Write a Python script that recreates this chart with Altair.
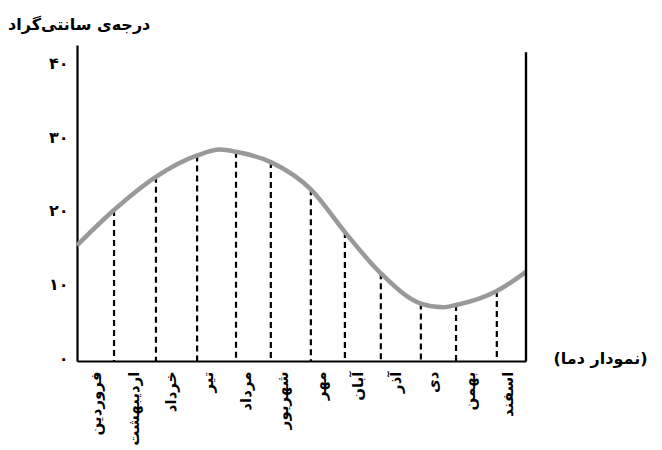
import altair as alt
import pandas as pd

# ---- data ----
months = ["فروردین", "اردیبهشت", "خرداد", "تیر", "مرداد", "شهریور",
          "مهر", "آبان", "آذر", "دی", "بهمن", "اسفند"]
month_centers = [0.5, 1.5, 2.5, 3.5, 4.5, 5.5, 6.5, 7.5, 8.5, 9.5, 10.5, 11.5]

# dashed month dividers (x in month units) and the temperature where they meet the curve
divider_x = [0.99, 2.11, 3.21, 4.25, 5.18, 6.25, 7.16, 8.12, 9.19, 10.13, 11.22]
divider_temp = [20.1, 24.6, 27.5, 28.0, 26.6, 22.9, 17.1, 11.5, 7.4, 7.2, 9.1]

# temperature curve samples
curve_x = [0, 0.99, 2.11, 3.21, 3.82, 4.25, 5.18, 6.25, 7.16, 8.12, 9.19, 9.78, 10.13, 11.22, 12]
curve_temp = [15.3, 20.1, 24.6, 27.5, 28.3, 28.0, 26.6, 22.9, 17.1, 11.5, 7.4, 6.9, 7.2, 9.1, 11.7]

y_ticks = [0, 10, 20, 30, 40]
y_tick_labels = ["۰", "۱۰", "۲۰", "۳۰", "۴۰"]
y_min, y_max = -0.4, 42.5
right_frame_top = 41.5

title_text = "درجه‌ی سانتی‌گراد"
note_text = "(نمودار دما)"

FONT = "DejaVu Sans"

curve_df = pd.DataFrame({"x": curve_x, "t": curve_temp})
div_df = pd.DataFrame({"x": divider_x, "t": divider_temp, "base": [y_min] * len(divider_x)})
frame_df = pd.DataFrame({"x": [12], "t": [right_frame_top], "base": [y_min]})

y_expr = " : ".join(f"datum.value == {v} ? '{l}'" for v, l in zip(y_ticks, y_tick_labels)) + " : ''"
x_expr = "[" + ",".join(f"'{m}'" for m in months) + "][floor(datum.value)]"

x_scale = alt.Scale(domain=[0, 12], nice=False, zero=False)
y_scale = alt.Scale(domain=[y_min, y_max], nice=False, zero=False)

x_axis = alt.Axis(values=month_centers, labelExpr=x_expr, labelAngle=270, labelAlign="right",
                  labelBaseline="middle", labelPadding=10, ticks=False, grid=False,
                  labelFont=FONT, labelFontSize=15, labelFontWeight="bold", labelColor="black",
                  labelOverlap=False, labelFlush=False, labelBound=False,
                  domainColor="black", domainWidth=2.2,
                  title=note_text, titleX=476, titleY=-3, titleAlign="left", titleBaseline="middle",
                  titleAngle=0, titleFont=FONT, titleFontSize=16, titleFontWeight="bold",
                  titleColor="black")
y_axis = alt.Axis(values=y_ticks, labelExpr=y_expr, ticks=False, grid=False, title=None,
                  labelFont=FONT, labelFontSize=16, labelFontWeight="bold", labelColor="black",
                  labelPadding=9, domainColor="black", domainWidth=2.2, labelFlush=False)

dividers = alt.Chart(div_df).mark_rule(color="black", strokeWidth=2.2, strokeDash=[6, 4]).encode(
    x=alt.X("x:Q", scale=x_scale, axis=x_axis),
    y=alt.Y("t:Q", scale=y_scale, axis=y_axis),
    y2="base:Q",
)

curve = alt.Chart(curve_df).mark_line(color="#999999", strokeWidth=4.5, interpolate="monotone").encode(
    x=alt.X("x:Q", scale=x_scale, axis=x_axis),
    y=alt.Y("t:Q", scale=y_scale, axis=y_axis),
)

frame = alt.Chart(frame_df).mark_rule(color="black", strokeWidth=2.4).encode(
    x="x:Q", y="t:Q", y2="base:Q"
)

chart = alt.layer(dividers, curve, frame).properties(
    width=449, height=316,
    autosize=alt.AutoSizeParams(type="none"),
    padding={"left": 69, "top": 37, "right": 128, "bottom": 86},
    title=alt.TitleParams(title_text, anchor="start", frame="group", dx=-69, dy=16, offset=12,
                          baseline="bottom", font=FONT, fontSize=16, fontWeight="bold",
                          color="black"),
).configure_view(stroke=None)

chart.save("out.html", embed_options={"renderer": "svg", "actions": False})
